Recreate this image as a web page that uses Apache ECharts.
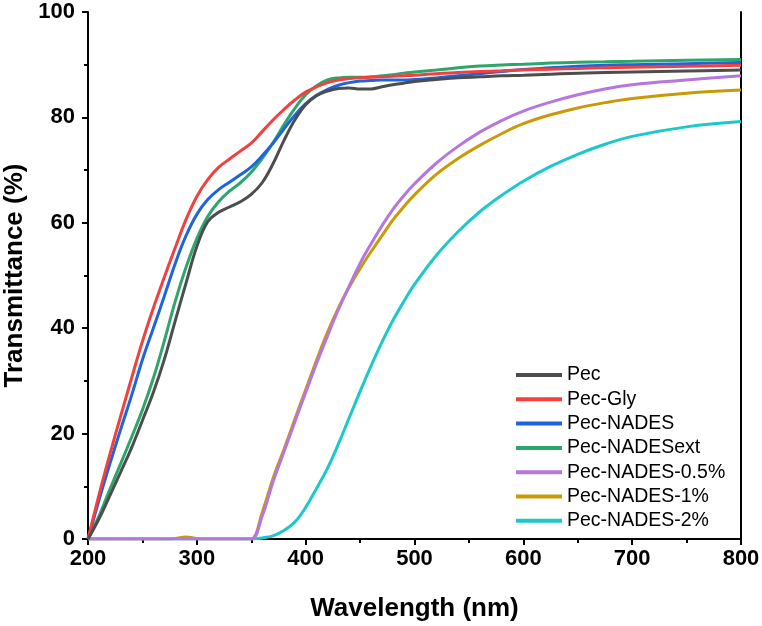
<!DOCTYPE html>
<html>
<head>
<meta charset="utf-8">
<script src="https://cdn.jsdelivr.net/npm/echarts@6/dist/echarts.min.js"></script>
<style>
html,body{margin:0;padding:0;background:#fff;}
#chart{width:762px;height:626px;}
</style>
</head>
<body>
<div id="chart"></div>
<script>
var wavelengths = [200,210,220,230,240,250,260,270,280,290,300,310,320,330,340,350,360,370,380,390,400,410,420,430,440,450,460,470,480,490,500,520,540,560,580,600,625,650,675,700,750,800];

var pec = [0,3.8,8.2,12.7,17.3,22.5,27.8,34,41.3,48.5,55.5,60.2,62,63,64,65.4,67.6,71.2,75.6,79.5,82.4,84.1,85,85.5,85.6,85.4,85.4,85.8,86.2,86.5,86.8,87.2,87.5,87.7,87.9,88.0,88.2,88.4,88.5,88.6,88.8,89.0];
var pecGly = [0,8.3,16,23.3,30.5,37.5,43.8,49.6,55.2,60.6,65,68.2,70.5,72.1,73.6,75.1,77.3,79.5,81.5,83.3,84.8,85.8,86.6,87.1,87.4,87.5,87.6,87.7,87.8,87.9,88.0,88.3,88.5,88.7,88.85,89.0,89.15,89.3,89.4,89.5,89.7,89.9];
var pecNades = [0,7.3,14.2,20.8,27.2,34,40,46,52.2,57.5,61.6,64.4,66.3,67.7,69.1,70.6,72.7,75.1,77.8,80.4,82.6,84.2,85.3,86.1,86.6,86.9,87.0,87.1,87.1,87.1,87.2,87.5,87.9,88.3,88.7,89.1,89.4,89.7,89.9,90.0,90.2,90.4];
var pecNadesExt = [0,4.3,9.4,14.3,19.3,24.5,30.5,37.5,45,51.5,57,61.2,64,66,67.6,69.6,72.2,75.2,78.6,81.7,84.3,86,87.1,87.5,87.6,87.6,87.7,87.9,88.1,88.4,88.6,89.0,89.4,89.75,89.95,90.1,90.3,90.45,90.55,90.65,90.85,91.0];
var pecNades05 = [0,0,0,0,0,0,0,0,0,0,0,0,0,0,0,0,4.3,10.8,16.5,22.2,27.8,33.3,38.5,43.5,48,52.3,56,59.4,62.5,65.1,67.4,71.3,74.5,77.2,79.4,81.2,82.9,84.3,85.4,86.2,87.1,87.9];
var pecNades1 = [0,0,0,0,0,0,0,0,0.1,0.4,0.1,0,0,0,0,0,5,11.5,17,22.7,28.3,33.9,39.2,43.8,47.8,51.3,54.5,57.5,60.5,63,65.3,69.2,72.2,74.7,76.9,78.8,80.5,81.8,82.8,83.6,84.6,85.2];
var pecNades2 = [0,0,0,0,0,0,0,0,0,0,0,0,0,0,0,0,0.2,0.6,1.6,3.2,6.0,9.6,13.4,18,23,28,32.8,37.3,41.4,45,48.3,53.8,58.3,62.1,65.2,67.9,70.7,73,74.9,76.4,78.2,79.2];

var seriesNames = ['Pec','Pec-Gly','Pec-NADES','Pec-NADESext','Pec-NADES-0.5%','Pec-NADES-1%','Pec-NADES-2%'];
var seriesValues = [pec, pecGly, pecNades, pecNadesExt, pecNades05, pecNades1, pecNades2];
var seriesColors = ['#4d4d4d','#f2403f','#1e64dc','#2ea56a','#b576e0','#c99a06','#1cc9c9'];

var xTicks = [200,300,400,500,600,700,800];
var yTicks = [0,20,40,60,80,100];

function pairs(vals){ return wavelengths.map(function(w,i){ return [w, vals[i]]; }); }

var FONT = '"Liberation Sans", Arial, sans-serif';

var series = seriesNames.map(function(n, i){
  return {
    name: n, type: 'line', data: pairs(seriesValues[i]),
    showSymbol: false, smooth: 0.4,
    lineStyle: {color: seriesColors[i], width: 3},
    itemStyle: {color: seriesColors[i]},
    z: 10 - i
  };
});

var chart = echarts.init(document.getElementById('chart'), null, {renderer: 'canvas'});
chart.setOption({
  backgroundColor: '#fff',
  animation: false,
  grid: {left: 88, right: 21, top: 12, bottom: 87, containLabel: false, outerBoundsMode: 'none'},
  legend: {
    orient: 'vertical', left: 516, top: 365, padding: 0,
    icon: 'rect', itemWidth: 46, itemHeight: 4, itemGap: 4.3,
    textStyle: {fontFamily: FONT, fontSize: 19.5, color: '#000', lineHeight: 20},
    data: seriesNames
  },
  xAxis: [{
    type: 'value', min: 200, max: 800, interval: 100,
    name: 'Wavelength (nm)', nameLocation: 'middle', nameGap: 57,
    nameTextStyle: {fontFamily: FONT, fontSize: 26, fontWeight: 'bold', color: '#000'},
    axisLine: {lineStyle: {color: '#000', width: 2}},
    axisTick: {show: true, inside: false, length: 6, lineStyle: {color: '#000', width: 2}},
    minorTick: {show: true, splitNumber: 2, length: 4, lineStyle: {color: '#000', width: 2}},
    axisLabel: {fontFamily: FONT, fontSize: 22, fontWeight: 'bold', color: '#000', margin: 9,
      formatter: function(v){ return xTicks.indexOf(v) >= 0 ? String(v) : ''; }},
    splitLine: {show: false}
  },{
    type: 'value', min: 200, max: 800, position: 'top',
    axisLine: {show: true, lineStyle: {color: '#000', width: 2}},
    axisTick: {show: false}, axisLabel: {show: false}, splitLine: {show: false}
  }],
  yAxis: [{
    type: 'value', min: 0, max: 100, interval: 20,
    name: 'Transmittance (%)', nameLocation: 'middle', nameGap: 53,
    nameTextStyle: {fontFamily: FONT, fontSize: 26, fontWeight: 'bold', color: '#000'},
    axisLine: {show: true, lineStyle: {color: '#000', width: 2}},
    axisTick: {show: true, inside: false, length: 6, lineStyle: {color: '#000', width: 2}},
    minorTick: {show: true, splitNumber: 2, length: 4, lineStyle: {color: '#000', width: 2}},
    axisLabel: {fontFamily: FONT, fontSize: 22, fontWeight: 'bold', color: '#000', margin: 13,
      formatter: function(v){ return yTicks.indexOf(v) >= 0 ? String(v) : ''; }},
    splitLine: {show: false}
  },{
    type: 'value', min: 0, max: 100, position: 'right',
    axisLine: {show: true, lineStyle: {color: '#000', width: 2}},
    axisTick: {show: false}, axisLabel: {show: false}, splitLine: {show: false}
  }],
  series: series
});
</script>
</body>
</html>
